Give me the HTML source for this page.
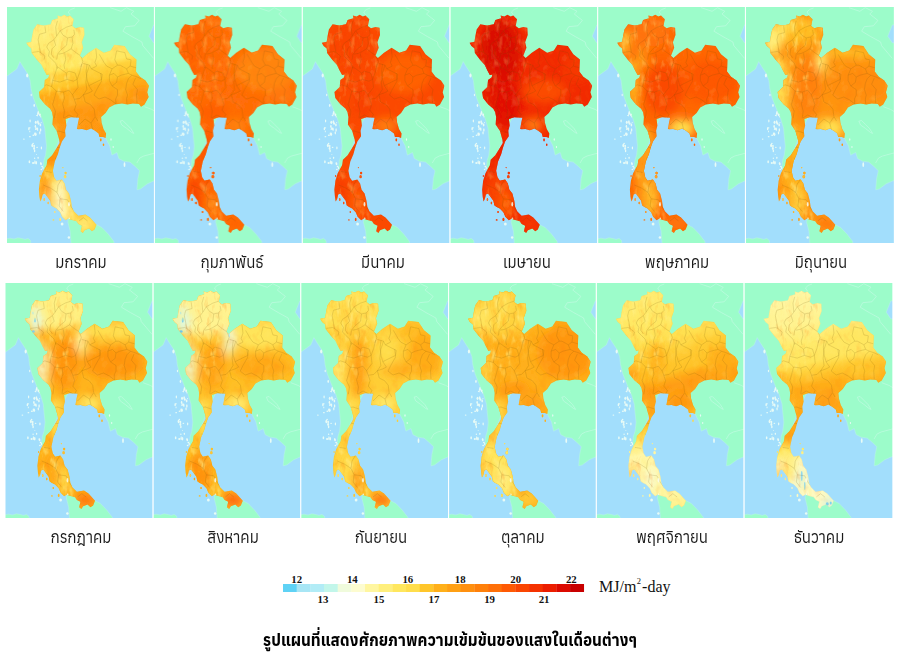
<!DOCTYPE html>
<html lang="th"><head><meta charset="utf-8"><title>แผนที่ศักยภาพความเข้มข้นของแสง</title>
<style>
html,body{margin:0;padding:0;background:#fff;}
body{width:900px;height:664px;position:relative;overflow:hidden;font-family:"Liberation Sans","Noto Sans Thai UI","Noto Sans Thai",sans-serif;}
svg{position:absolute;left:0;top:0;display:block}
.m{position:absolute;width:160px;text-align:center;font-family:"Liberation Sans","Anuphan","IBM Plex Sans Thai","Kanit","Prompt","Noto Sans Thai UI","Noto Sans Thai",sans-serif;font-size:16.5px;line-height:20px;color:#1a1a1a;transform:scaleX(0.915);transform-origin:50% 50%;white-space:nowrap}
.cap{position:absolute;left:0;width:900px;text-align:center;font-family:"Liberation Sans","Anuphan","IBM Plex Sans Thai","Kanit","Prompt","Noto Sans Thai UI","Noto Sans Thai",sans-serif;font-weight:700;font-size:17px;transform:scaleX(0.912);transform-origin:50% 50%;line-height:24px;color:#000;white-space:nowrap}
.n{position:absolute;width:30px;text-align:center;font-family:"Liberation Serif",serif;font-weight:700;font-size:10.8px;line-height:12px;color:#111}
.u{position:absolute;font-family:"Liberation Serif",serif;font-size:16px;line-height:18px;color:#111;white-space:nowrap}
.u sup{font-size:8.5px;line-height:0;vertical-align:8px;margin:0 1px 0 0.5px}
</style></head><body>

<svg width="900" height="664" viewBox="0 0 900 664">
<defs>
<filter id="bl" x="-20%" y="-20%" width="140%" height="140%"><feGaussianBlur stdDeviation="4.5"/></filter>
<filter id="sf" x="-5%" y="-5%" width="110%" height="110%"><feGaussianBlur stdDeviation="0.45"/></filter>
<clipPath id="tc"><path d="M19.2 35.7 L24.2 34.8 L25.1 28.9 L26.4 22.6 L30.1 17.2 L36.9 18.5 L43.6 17.2 L45.1 13.1 L50.9 11.3 L50.4 8.6 L54.1 9.5 L57.2 7.7 L60.4 9.5 L63 8.6 L66.8 12.2 L65.4 19 L68.5 21.2 L73 19.9 L77.1 20.8 L77.5 28 L74.9 35.3 L76.2 40.7 L73 48.8 L75.4 51.1 L81.5 45.8 L89.1 40.7 L96.9 45.8 L103.6 43.6 L107.2 37.7 L117.6 39 L123 47.2 L129.5 52.6 L129 64.4 L133 69.8 L138.5 73.4 L142 78.8 L140.2 85.2 L141.6 90 L137.5 97.5 L134 99.7 L132.1 97 L125.9 96.6 L120.4 97.5 L115 96.6 L107.8 97.5 L102.2 100.6 L98.6 106.1 L94.1 110.1 L94.6 115.5 L96.5 121.9 L99.1 126.4 L98.6 130.9 L96 130 L92.4 130 L91.5 126.4 L87.9 123.7 L84.2 121.4 L79.6 123.2 L75.1 121.9 L71.5 122.3 L69.9 122 L71.2 114.8 L72.1 110.7 L64 110.2 L58.6 112 L59.4 118.4 L58.1 123.8 L58.6 129.2 L54.9 134.6 L52.6 141 L50.9 147.3 L47.8 154.5 L46.9 159.1 L45.9 163.8 L47.2 170.2 L49.6 173.8 L54.9 172.4 L57.6 176.5 L59.1 182.8 L62.1 186.4 L64 193.7 L64.9 200 L66.9 204.3 L71.4 208.8 L78.5 207.4 L83 210.6 L89.5 217.8 L87.6 222.4 L85 224.2 L82.1 221.5 L77.6 223.3 L75.9 226 L73.6 224.2 L75 218.7 L71.4 216.9 L69.5 214.2 L63.2 212.4 L61.4 211.5 L58.6 213.3 L55.1 209.7 L53.2 205.2 L49.6 201.6 L46.1 199.8 L44.1 198.2 L43.2 193.7 L40.4 190.1 L37.8 186.5 L35.6 187.4 L34.6 191.9 L33.2 194.6 L32.4 189.2 L31.9 182.8 L32.9 173.8 L35.1 166.6 L36.9 163 L39.6 158.2 L40.4 152.7 L45.1 148.2 L49.6 141 L52.6 136 L52.2 132.8 L49.6 123.8 L45.4 117.5 L45.9 110 L44.9 105 L43.1 101.8 L37.8 97.3 L32.8 91 L31.9 85.1 L37.2 80.1 L37.8 72.9 L41.4 70.6 L42.2 67.5 L39.6 67.9 L36.9 62.9 L34.4 57.7 L29.8 52.7 L24.6 46.1 L24.2 41.6 L21.1 38.9Z"/><ellipse cx="58.6" cy="166.1" rx="1.2" ry="1.4"/><ellipse cx="58.1" cy="169.7" rx="1.3" ry="1.6"/><ellipse cx="93.8" cy="132.8" rx="0.9" ry="1.6"/><ellipse cx="96.5" cy="137.7" rx="0.8" ry="1.3"/><ellipse cx="53.2" cy="212.4" rx="0.9" ry="1.6"/><ellipse cx="46.4" cy="212.9" rx="0.9" ry="0.7"/><ellipse cx="37.2" cy="192.5" rx="0.7" ry="1.6"/><ellipse cx="41.2" cy="196.0" rx="0.7" ry="1.2"/><ellipse cx="47.8" cy="205.0" rx="0.7" ry="1.0"/><ellipse cx="33.1" cy="169.0" rx="0.6" ry="1.0"/><ellipse cx="55.9" cy="160.6" rx="0.6" ry="0.6"/></clipPath>
<g id="env"><rect x="-5" y="-5" width="160" height="250" fill="#a2defc"/><path d="M-4.2 -5 L-4.2 72 L0 69 L4.9 65.5 L9.8 61.9 L12.9 54.6 L15.9 59.4 L20.6 66.6 L23.2 73.8 L24.1 81.9 L26.4 91 L29.6 99.1 L31.9 105 L35.1 112 L37.8 121.1 L38.6 130.1 L39.6 139.2 L38.6 148.2 L36.9 153.6 L36.4 159.1 L36.9 163 L41.8 159 L47.8 145 L53.8 128 L64.8 105 L84.8 115 L94.8 125 L98.6 130.9 L100.5 134.5 L102.8 139 L104.9 148.1 L110 145.5 L111.9 151.6 L117 154.2 L123 155.1 L128.2 159.4 L132.6 163.7 L130.9 171.5 L130 182.8 L133.5 181.9 L140.5 176.7 L146.5 174.1 L152.8 172 L152.8 35.9 L146.5 35.9 L142 29.2 L146.5 17.9 L152.8 17.9 L152.8 -5Z" fill="#9cfcca" stroke="#b8f4e4" stroke-width="0.5"/><path d="M61.4 211.5 L60.9 215.1 L63.2 224.2 L64.1 236.5 L64.4 242 L109.8 242 L107.2 236.5 L106.6 234.1 L101.1 226.9 L94.9 220.5 L89.5 217.8 L79.8 213 L69.8 210Z" fill="#9cfcca" stroke="#b8f4e4" stroke-width="0.5"/><path d="M-4 231.5 L0 231.8 L3 231.2 L7 232 L11 230.8 L15 231.6 L18 232.4 L21 231.4 L23.5 233.5 L24 241 L-4 241Z" fill="#9cfcca" stroke="#b8f4e4" stroke-width="0.5"/><path d="M103.2 0.7 L114 4.3 L119.5 0.7 L126.8 4.3 L124 7 L132.1 13.4 L127.6 18.8 L118.5 19.7 L115.9 24.2 L125 29.6 L134.9 35 L135.8 38.6 L146.5 51.3" fill="none" stroke="#c4fae4" stroke-width="0.7" opacity="0.9"/><path d="M137.5 99.7 L144.8 102.4 L150.8 106" fill="none" stroke="#c4fae4" stroke-width="0.7" opacity="0.9"/><path d="M129.8 156 L132.8 151 L136.8 149 L151.8 145" fill="none" stroke="#c4fae4" stroke-width="0.7" opacity="0.9"/><path d="M113.1 114.2 L115.8 113.5 L119.8 117.5 L123.8 121.5 L126.8 126.4 L124.8 125.5 L119.8 121.5 L114.8 118 L113.1 114.2" fill="none" stroke="#c4fae4" stroke-width="0.7" opacity="0.9"/><path d="M63.2 8 L61.2 5 L63.8 2.5 L67.8 1" fill="none" stroke="#c4fae4" stroke-width="0.7" opacity="0.9"/><ellipse cx="33.4" cy="118.0" rx="0.82" ry="1.38" fill="#e8fbf6"/><ellipse cx="30.4" cy="107.9" rx="0.41" ry="1.67" fill="#e8fbf6"/><ellipse cx="28.4" cy="119.3" rx="0.73" ry="1.67" fill="#e8fbf6"/><ellipse cx="16.9" cy="132.1" rx="0.85" ry="0.71" fill="#e8fbf6"/><ellipse cx="27.1" cy="141.5" rx="0.92" ry="1.44" fill="#e8fbf6"/><ellipse cx="32.9" cy="107.8" rx="0.93" ry="1.33" fill="#e8fbf6"/><ellipse cx="21.9" cy="121.8" rx="0.73" ry="1.51" fill="#e8fbf6"/><ellipse cx="29.2" cy="155.8" rx="0.9" ry="1.79" fill="#e8fbf6"/><ellipse cx="28.6" cy="127.3" rx="1.05" ry="1.73" fill="#e8fbf6"/><ellipse cx="33.6" cy="109.7" rx="0.5" ry="0.8" fill="#e8fbf6"/><ellipse cx="35.9" cy="161.0" rx="0.61" ry="1.21" fill="#e8fbf6"/><ellipse cx="27.8" cy="126.8" rx="0.65" ry="1.32" fill="#e8fbf6"/><ellipse cx="25.4" cy="138.5" rx="1.05" ry="1.7" fill="#e8fbf6"/><ellipse cx="34.4" cy="162.5" rx="0.87" ry="0.73" fill="#e8fbf6"/><ellipse cx="22.4" cy="154.8" rx="0.8" ry="1.5" fill="#e8fbf6"/><ellipse cx="31.6" cy="116.5" rx="0.98" ry="1.3" fill="#e8fbf6"/><ellipse cx="22.6" cy="120.8" rx="1.09" ry="0.62" fill="#e8fbf6"/><ellipse cx="27.6" cy="151.2" rx="0.69" ry="0.71" fill="#e8fbf6"/><ellipse cx="28.9" cy="121.3" rx="0.43" ry="1.36" fill="#e8fbf6"/><ellipse cx="31.2" cy="106.7" rx="0.9" ry="0.96" fill="#e8fbf6"/><ellipse cx="26.1" cy="156.0" rx="1.1" ry="0.93" fill="#e8fbf6"/><ellipse cx="29.9" cy="108.5" rx="0.82" ry="0.54" fill="#e8fbf6"/><ellipse cx="34.2" cy="115.6" rx="0.51" ry="0.56" fill="#e8fbf6"/><ellipse cx="27.9" cy="155.2" rx="0.62" ry="1.84" fill="#e8fbf6"/><ellipse cx="34.1" cy="156.9" rx="0.76" ry="1.4" fill="#e8fbf6"/><ellipse cx="27.2" cy="139.1" rx="0.79" ry="1.37" fill="#e8fbf6"/><ellipse cx="35.1" cy="159.5" rx="0.9" ry="0.83" fill="#e8fbf6"/><ellipse cx="30.1" cy="121.8" rx="1.08" ry="1.23" fill="#e8fbf6"/><ellipse cx="26.1" cy="136.4" rx="0.81" ry="0.53" fill="#e8fbf6"/><ellipse cx="30.1" cy="140.3" rx="0.84" ry="0.58" fill="#e8fbf6"/><ellipse cx="34.4" cy="141.0" rx="0.65" ry="1.49" fill="#e8fbf6"/><ellipse cx="29.4" cy="147.5" rx="0.42" ry="0.58" fill="#e8fbf6"/><ellipse cx="27.6" cy="143.9" rx="0.72" ry="1.33" fill="#e8fbf6"/><ellipse cx="30.6" cy="122.9" rx="0.65" ry="0.94" fill="#e8fbf6"/><ellipse cx="32.8" cy="125.8" rx="0.66" ry="1.58" fill="#e8fbf6"/><ellipse cx="31.2" cy="105.6" rx="0.8" ry="1.53" fill="#e8fbf6"/><ellipse cx="28.6" cy="122.3" rx="0.57" ry="0.76" fill="#e8fbf6"/><ellipse cx="22.9" cy="129.7" rx="0.89" ry="0.64" fill="#e8fbf6"/><ellipse cx="33.6" cy="123.0" rx="0.71" ry="1.7" fill="#e8fbf6"/><ellipse cx="23.1" cy="114.0" rx="0.64" ry="1.41" fill="#e8fbf6"/><ellipse cx="33.6" cy="156.2" rx="0.48" ry="1.24" fill="#e8fbf6"/><ellipse cx="28.8" cy="115.3" rx="0.96" ry="1.67" fill="#e8fbf6"/><ellipse cx="30.9" cy="114.8" rx="0.85" ry="1.63" fill="#e8fbf6"/><ellipse cx="22.8" cy="124.4" rx="0.49" ry="0.91" fill="#e8fbf6"/><ellipse cx="31.1" cy="150.8" rx="0.69" ry="1.09" fill="#e8fbf6"/><ellipse cx="26.4" cy="128.2" rx="1.04" ry="0.72" fill="#e8fbf6"/><ellipse cx="27.2" cy="98.5" rx="0.8" ry="1.4" fill="#e8fbf6"/><ellipse cx="55.1" cy="216.9" rx="1.4" ry="1.5" fill="#e8fbf6"/><ellipse cx="61.9" cy="230.5" rx="1.2" ry="1.2" fill="#e8fbf6"/><ellipse cx="117.5" cy="157.7" rx="0.9" ry="2.4" fill="#e8fbf6"/><ellipse cx="104.0" cy="132.5" rx="0.6" ry="1.2" fill="#e8fbf6"/><ellipse cx="20.2" cy="68.5" rx="1.1" ry="2.0" fill="#e8fbf6"/><ellipse cx="106.2" cy="140.0" rx="0.6" ry="1.0" fill="#e8fbf6"/><ellipse cx="24.2" cy="88.0" rx="0.6" ry="1.2" fill="#e8fbf6"/></g>
<filter id="tx" x="0" y="0" width="100%" height="100%" color-interpolation-filters="sRGB"><feTurbulence type="fractalNoise" baseFrequency="0.10 0.08" numOctaves="3" seed="7"/><feColorMatrix type="matrix" values="0 0 0 0 1  0 0 0 0 0.93  0 0 0 0 0.55  0 0 0 2.6 -1.45"/></filter>
<filter id="ty" x="0" y="0" width="100%" height="100%" color-interpolation-filters="sRGB"><feTurbulence type="fractalNoise" baseFrequency="0.10 0.08" numOctaves="3" seed="7"/><feColorMatrix type="matrix" values="0 0 0 0 1  0 0 0 0 0.42  0 0 0 0 0.0  0 0 0 -2.6 1.15"/></filter>
<filter id="mx" x="0" y="0" width="100%" height="100%" color-interpolation-filters="sRGB"><feTurbulence type="fractalNoise" baseFrequency="0.17 0.075" numOctaves="3" seed="11"/><feColorMatrix type="matrix" values="0 0 0 0 1  0 0 0 0 0.95  0 0 0 0 0.55  0 0 0 3.2 -1.7"/></filter>
<filter id="my" x="0" y="0" width="100%" height="100%" color-interpolation-filters="sRGB"><feTurbulence type="fractalNoise" baseFrequency="0.17 0.075" numOctaves="3" seed="11"/><feColorMatrix type="matrix" values="0 0 0 0 1  0 0 0 0 0.45  0 0 0 0 0.0  0 0 0 -3.2 1.35"/></filter>
<mask id="mt" maskUnits="userSpaceOnUse" x="0" y="0" width="148" height="236"><path d="M12 -5 L82 -5 L82 56 L66 72 L50 100 L50 130 L60 160 L75 236 L25 236 L12 110Z" fill="#fff" filter="url(#bl)"/></mask>
<g id="mtx" mask="url(#mt)"><rect x="0" y="0" width="148" height="236" filter="url(#mx)" opacity="0.55"/><rect x="0" y="0" width="148" height="236" filter="url(#my)" opacity="0.3"/></g>
<g id="pv" fill="none" stroke="#6a4c00" stroke-width="0.32" stroke-linejoin="round" opacity="0.5"><path d="M37.9 19.2 L38.8 25.5 L32.5 27.3 L31.1 32.7 L32.5 40 L33.4 45.4 L37.9 49 L37 52.6"/><path d="M50.5 13.8 L48.7 20.1 L49.6 29.1 L46.9 32.7 L41.5 36.4 L39.7 40 L42.4 44.5 L41.5 49 L45.1 52.6 L48.7 56.2 L50.5 61.7"/><path d="M49.6 29.1 L53.2 23.7 L56 28.2 L60.5 30.9 L59.6 38.2 L54.1 42.7 L50.5 47.2 L49.6 52.6"/><path d="M53.2 23.7 L59.6 20.1 L65 18.3"/><path d="M60.5 30.9 L65 30 L67.7 27.3 L66.8 22.8"/><path d="M65 30 L65.9 36.4 L64.1 41.8 L68.6 45.4 L74 49 L75.8 54.4 L74 59.9"/><path d="M46.9 32.7 L48.7 38.2 L45.1 41.8 L44.2 47.2 L46.9 50.8"/><path d="M64.1 41.8 L59.6 44.5 L56 46.3 L51.4 47.2"/><path d="M57.8 46.3 L58.7 52.6 L56.9 58.1 L57.8 62"/><path d="M25.2 45.4 L31.5 44.5 L33.4 45.4"/><path d="M88.8 41.9 L89.7 50.1 L87.9 55.5 L89.7 59.1 L84.3 61.8 L82.5 58.2 L76.2 56.4"/><path d="M92.4 47.4 L97 55.5 L99.7 59.1 L105.1 61.8 L110.5 58.2 L107.8 52.8 L109.6 43.8"/><path d="M109.6 43.8 L117.8 45.6 L119.6 51.9 L124.1 52.8 L123.2 59.1 L119.6 61.8 L113.2 58.2 L110.5 58.2"/><path d="M84.3 61.8 L95.2 67.3 L94.3 74.5 L89.7 82.6 L87 88.1"/><path d="M105.1 61.8 L102.4 68.2 L102.4 73.6 L105.1 79 L110.5 82.6 L110.5 88.1 L108.7 92 L109 97"/><path d="M102.4 68.2 L106.9 66.4 L110.5 70 L109.6 75.4 L105.1 79"/><path d="M119.6 61.8 L121.4 66.4 L114.2 68.2 L110.5 70"/><path d="M121.4 66.4 L125 68.2 L121.4 71.8 L119.6 76.3 L118.7 82.6 L120.5 88.1 L119.6 92 L120 97"/><path d="M125 68.2 L130.4 70 L134 71.8"/><path d="M128.6 70.9 L125.9 77.2 L130.4 82.6 L129.5 88.1 L130 96"/><path d="M82.5 58.2 L79.8 66.4 L78.9 75.4 L79.8 82.6 L76.2 88.1"/><path d="M123.2 59.1 L129.5 60.9"/><path d="M50.2 59.7 L48.4 66 L45.6 73.3 L52.9 75.1 L60.1 72.4 L59.2 66 L52.9 61.5 L50.2 59.7"/><path d="M60.1 72.4 L66.4 74.2 L70.1 72.4 L68.2 66 L61.9 64.2 L59.2 66"/><path d="M70.1 72.4 L72.8 65.1 L74.6 57"/><path d="M80 57 L79.1 64.2 L80 72.4 L81.8 78.7 L85.4 84.1"/><path d="M70.1 72.4 L71 80.5 L68.2 84.1 L65.5 87.7 L67.3 92.3"/><path d="M45.6 73.3 L44.7 79.6 L49.3 84.1 L56.5 85 L61.9 83.2 L65.5 87.7"/><path d="M56.5 85 L57.4 91.4 L55.6 96.8 L57.4 104 L56.5 111.2"/><path d="M67.3 92.3 L72.8 91.4 L76.4 87.7 L81.8 85.9 L85.4 84.1"/><path d="M67.3 92.3 L69.1 97.7 L67.3 103.1 L70.9 107.6 L69.1 111.2"/><path d="M76.4 87.7 L78.2 95 L83.6 97.7 L87.2 102.2 L88.1 109.4 L90.8 114"/><path d="M93.6 66 L94.5 72.4 L89 75.1 L81.8 78.7"/><path d="M44.7 79.6 L39.3 77.8 L37.5 78.7"/><path d="M49.3 84.1 L47.4 91.4 L45.6 97.7 L48.4 104 L47.4 111.2"/><path d="M87 88.1 L92 92 L98 90 L104 93 L109 97"/><path d="M36.3 178 L43.7 181.2 L50 185.4 L53.1 191.8"/><path d="M50 185.4 L51 178 L54.2 172.8"/><path d="M53.1 191.8 L60.5 192.8 L63.7 199.1 L66.8 203.4"/><path d="M53.1 191.8 L52.1 199.1 L56.3 204.4"/><path d="M72.1 213.9 L76.3 210.7 L80.5 213.9"/><path d="M38.4 164.4 L44.7 165.4"/><path d="M46 125 L52 124 L58 126"/><path d="M49 140 L55 141"/><path d="M48 151 L52 152"/><path d="M72 118 L78 112 L84 116 L88 110"/><path d="M84 116 L86 124 L90 129"/><path d="M57 111 L62 108 L68 111"/><path d="M19.2 35.7 L24.2 34.8 L25.1 28.9 L26.4 22.6 L30.1 17.2 L36.9 18.5 L43.6 17.2 L45.1 13.1 L50.9 11.3 L50.4 8.6 L54.1 9.5 L57.2 7.7 L60.4 9.5 L63 8.6 L66.8 12.2 L65.4 19 L68.5 21.2 L73 19.9 L77.1 20.8 L77.5 28 L74.9 35.3 L76.2 40.7 L73 48.8 L75.4 51.1 L81.5 45.8 L89.1 40.7 L96.9 45.8 L103.6 43.6 L107.2 37.7 L117.6 39 L123 47.2 L129.5 52.6 L129 64.4 L133 69.8 L138.5 73.4 L142 78.8 L140.2 85.2 L141.6 90 L137.5 97.5 L134 99.7 L132.1 97 L125.9 96.6 L120.4 97.5 L115 96.6 L107.8 97.5 L102.2 100.6 L98.6 106.1 L94.1 110.1 L94.6 115.5 L96.5 121.9 L99.1 126.4 L98.6 130.9 L96 130 L92.4 130 L91.5 126.4 L87.9 123.7 L84.2 121.4 L79.6 123.2 L75.1 121.9 L71.5 122.3 L69.9 122 L71.2 114.8 L72.1 110.7 L64 110.2 L58.6 112 L59.4 118.4 L58.1 123.8 L58.6 129.2 L54.9 134.6 L52.6 141 L50.9 147.3 L47.8 154.5 L46.9 159.1 L45.9 163.8 L47.2 170.2 L49.6 173.8 L54.9 172.4 L57.6 176.5 L59.1 182.8 L62.1 186.4 L64 193.7 L64.9 200 L66.9 204.3 L71.4 208.8 L78.5 207.4 L83 210.6 L89.5 217.8 L87.6 222.4 L85 224.2 L82.1 221.5 L77.6 223.3 L75.9 226 L73.6 224.2 L75 218.7 L71.4 216.9 L69.5 214.2 L63.2 212.4 L61.4 211.5 L58.6 213.3 L55.1 209.7 L53.2 205.2 L49.6 201.6 L46.1 199.8 L44.1 198.2 L43.2 193.7 L40.4 190.1 L37.8 186.5 L35.6 187.4 L34.6 191.9 L33.2 194.6 L32.4 189.2 L31.9 182.8 L32.9 173.8 L35.1 166.6 L36.9 163 L39.6 158.2 L40.4 152.7 L45.1 148.2 L49.6 141 L52.6 136 L52.2 132.8 L49.6 123.8 L45.4 117.5 L45.9 110 L44.9 105 L43.1 101.8 L37.8 97.3 L32.8 91 L31.9 85.1 L37.2 80.1 L37.8 72.9 L41.4 70.6 L42.2 67.5 L39.6 67.9 L36.9 62.9 L34.4 57.7 L29.8 52.7 L24.6 46.1 L24.2 41.6 L21.1 38.9Z" stroke-width="0.4" opacity="0.3"/></g>
<g id="lk"><ellipse cx="62.0" cy="197.2" rx="0.9" ry="2.2" fill="#f8fcf0" opacity="0.85"/><ellipse cx="62.2" cy="211.6" rx="0.8" ry="1.0" fill="#f8fcf0" opacity="0.8"/></g>
<linearGradient id="g0" gradientUnits="userSpaceOnUse" x1="0" y1="0" x2="45" y2="236"><stop offset="0.0795" stop-color="#fff080"/><stop offset="0.2103" stop-color="#ffeb6d"/><stop offset="0.2962" stop-color="#ffe75e"/><stop offset="0.3207" stop-color="#ffd23b"/><stop offset="0.3698" stop-color="#ffc62a"/><stop offset="0.3902" stop-color="#ffb01a"/><stop offset="0.4516" stop-color="#ffa616"/><stop offset="0.4761" stop-color="#ff9a12"/><stop offset="0.6601" stop-color="#ff9711"/><stop offset="0.7010" stop-color="#ffc62a"/><stop offset="0.7500" stop-color="#ffd33d"/><stop offset="1.0117" stop-color="#ffd33d"/></linearGradient>
<linearGradient id="g10" gradientUnits="userSpaceOnUse" x1="0" y1="0" x2="60" y2="236"><stop offset="0.0926" stop-color="#ffec70"/><stop offset="0.2398" stop-color="#ffe75e"/><stop offset="0.2916" stop-color="#ffdf4f"/><stop offset="0.3393" stop-color="#ffce36"/><stop offset="0.4269" stop-color="#ffc227"/><stop offset="0.4587" stop-color="#ffa817"/><stop offset="0.4826" stop-color="#ff9e13"/><stop offset="0.5702" stop-color="#ffa817"/><stop offset="0.6179" stop-color="#ffc227"/><stop offset="0.6657" stop-color="#ffe75d"/><stop offset="0.7294" stop-color="#fff7a7"/><stop offset="0.9164" stop-color="#fff6a0"/><stop offset="1.0000" stop-color="#fff080"/></linearGradient>
<linearGradient id="g11" gradientUnits="userSpaceOnUse" x1="0" y1="0" x2="50" y2="236"><stop offset="0.0840" stop-color="#fff7a5"/><stop offset="0.2138" stop-color="#fff390"/><stop offset="0.2949" stop-color="#ffeb6c"/><stop offset="0.3760" stop-color="#ffe459"/><stop offset="0.4165" stop-color="#ffce36"/><stop offset="0.4733" stop-color="#ffaf1a"/><stop offset="0.6598" stop-color="#ffa817"/><stop offset="0.7166" stop-color="#ffe75d"/><stop offset="0.7734" stop-color="#fefabf"/><stop offset="1.0086" stop-color="#fefac4"/></linearGradient>
</defs>
<svg x="7" y="7" width="147.2" height="236" viewBox="0 0 147.2 236" overflow="hidden">
<g filter="url(#sf)"><use href="#env"/>
<g clip-path="url(#tc)">
<rect x="0" y="0" width="148" height="236" fill="url(#g0)"/>
<g filter="url(#bl)">
<ellipse cx="37" cy="186" rx="4" ry="24" fill="#ff8a0d" opacity="1"/>
<ellipse cx="53" cy="192" rx="6" ry="22" fill="#fdfcd0" opacity="1"/>
<ellipse cx="60" cy="206" rx="4" ry="8" fill="#fff7a7" opacity="1"/>
<ellipse cx="77" cy="217" rx="9" ry="6" fill="#fff080" opacity="1"/>
<ellipse cx="135" cy="88" rx="10" ry="8" fill="#ff900f" opacity="0.9"/>
</g><rect x="0" y="0" width="148" height="236" filter="url(#tx)" opacity="0.2"/><rect x="0" y="0" width="148" height="236" filter="url(#ty)" opacity="0.16"/><use href="#mtx" opacity="0.9"/><use href="#pv"/><use href="#lk"/></g></g></svg>
<svg x="154.75" y="7" width="147.2" height="236" viewBox="0 0 147.2 236" overflow="hidden">
<g filter="url(#sf)"><use href="#env"/>
<g clip-path="url(#tc)">
<rect x="0" y="0" width="148" height="236" fill="#ff6d07"/>
<g filter="url(#bl)">
<ellipse cx="112" cy="62" rx="32" ry="22" fill="#ff860c" opacity="0.95"/>
<ellipse cx="128" cy="88" rx="14" ry="8" fill="#ff7a09" opacity="0.8"/>
<ellipse cx="38" cy="45" rx="12" ry="28" fill="#ff6306" opacity="0.9"/>
<ellipse cx="50" cy="165" rx="12" ry="48" fill="#fe5804" opacity="1"/>
<ellipse cx="38" cy="190" rx="5" ry="20" fill="#f83c01" opacity="1"/>
<ellipse cx="56" cy="196" rx="5" ry="12" fill="#ff8c0e" opacity="0.9"/>
<ellipse cx="80" cy="216" rx="9" ry="6" fill="#ff6306" opacity="0.9"/>
<ellipse cx="82" cy="119" rx="10" ry="7" fill="#ff860c" opacity="0.9"/>
<ellipse cx="58" cy="105" rx="14" ry="10" fill="#ff5e05" opacity="0.9"/>
</g><rect x="0" y="0" width="148" height="236" filter="url(#tx)" opacity="0.2"/><rect x="0" y="0" width="148" height="236" filter="url(#ty)" opacity="0.16"/><use href="#mtx" opacity="0.5"/><use href="#pv"/><use href="#lk"/></g></g></svg>
<svg x="302.5" y="7" width="147.2" height="236" viewBox="0 0 147.2 236" overflow="hidden">
<g filter="url(#sf)"><use href="#env"/>
<g clip-path="url(#tc)">
<rect x="0" y="0" width="148" height="236" fill="#fb4902"/>
<g filter="url(#bl)">
<ellipse cx="102" cy="66" rx="28" ry="20" fill="#ff6205" opacity="0.95"/>
<ellipse cx="45" cy="40" rx="18" ry="28" fill="#f94202" opacity="0.9"/>
<ellipse cx="83" cy="119" rx="12" ry="8" fill="#ff7b09" opacity="1"/>
<ellipse cx="55" cy="196" rx="5" ry="12" fill="#ff6e08" opacity="0.9"/>
<ellipse cx="60" cy="95" rx="10" ry="18" fill="#f84001" opacity="0.8"/>
<ellipse cx="38" cy="188" rx="5" ry="18" fill="#f63600" opacity="0.9"/>
</g><rect x="0" y="0" width="148" height="236" filter="url(#tx)" opacity="0.2"/><rect x="0" y="0" width="148" height="236" filter="url(#ty)" opacity="0.16"/><use href="#mtx" opacity="0.45"/><use href="#pv"/><use href="#lk"/></g></g></svg>
<svg x="450.25" y="7" width="147.2" height="236" viewBox="0 0 147.2 236" overflow="hidden">
<g filter="url(#sf)"><use href="#env"/>
<g clip-path="url(#tc)">
<rect x="0" y="0" width="148" height="236" fill="#f22b00"/>
<g filter="url(#bl)">
<ellipse cx="50" cy="46" rx="21" ry="34" fill="#d90800" opacity="0.95"/>
<ellipse cx="56" cy="96" rx="15" ry="26" fill="#e11000" opacity="0.95"/>
<ellipse cx="40" cy="80" rx="8" ry="24" fill="#e41400" opacity="0.9"/>
<ellipse cx="94" cy="84" rx="22" ry="12" fill="#fc4e03" opacity="0.95"/>
<ellipse cx="127" cy="60" rx="14" ry="14" fill="#f73b01" opacity="0.85"/>
<ellipse cx="83" cy="118" rx="10" ry="7" fill="#ff7b09" opacity="1"/>
<ellipse cx="50" cy="192" rx="16" ry="28" fill="#fa4402" opacity="0.95"/>
<ellipse cx="55" cy="196" rx="5" ry="12" fill="#ff6606" opacity="0.9"/>
<ellipse cx="50" cy="145" rx="6" ry="18" fill="#ee2200" opacity="0.8"/>
<ellipse cx="80" cy="217" rx="10" ry="6" fill="#f73a01" opacity="0.9"/>
</g><rect x="0" y="0" width="148" height="236" filter="url(#tx)" opacity="0.2"/><rect x="0" y="0" width="148" height="236" filter="url(#ty)" opacity="0.16"/><use href="#mtx" opacity="0.4"/><use href="#pv"/><use href="#lk"/></g></g></svg>
<svg x="598" y="7" width="147.2" height="236" viewBox="0 0 147.2 236" overflow="hidden">
<g filter="url(#sf)"><use href="#env"/>
<g clip-path="url(#tc)">
<rect x="0" y="0" width="148" height="236" fill="#ff6706"/>
<g filter="url(#bl)">
<ellipse cx="50" cy="26" rx="22" ry="14" fill="#ff7509" opacity="0.9"/>
<ellipse cx="27" cy="36" rx="5" ry="14" fill="#ffb920" opacity="1"/>
<ellipse cx="35" cy="78" rx="6" ry="28" fill="#ffb41d" opacity="1"/>
<ellipse cx="44" cy="50" rx="6" ry="12" fill="#ff9c13" opacity="0.8"/>
<ellipse cx="66" cy="82" rx="20" ry="26" fill="#fb4a02" opacity="0.95"/>
<ellipse cx="112" cy="74" rx="30" ry="22" fill="#fe5704" opacity="0.95"/>
<ellipse cx="84" cy="121" rx="13" ry="9" fill="#ffde4c" opacity="1"/>
<ellipse cx="50" cy="165" rx="13" ry="45" fill="#ffa014" opacity="1"/>
<ellipse cx="54" cy="196" rx="4" ry="14" fill="#ffca2f" opacity="1"/>
<ellipse cx="79" cy="216" rx="10" ry="6" fill="#ff7809" opacity="1"/>
</g><rect x="0" y="0" width="148" height="236" filter="url(#tx)" opacity="0.2"/><rect x="0" y="0" width="148" height="236" filter="url(#ty)" opacity="0.16"/><use href="#mtx" opacity="0.6"/><use href="#pv"/><use href="#lk"/></g></g></svg>
<svg x="745.75" y="7" width="148.1" height="236" viewBox="0 0 148.1 236" overflow="hidden">
<g filter="url(#sf)"><use href="#env"/>
<g clip-path="url(#tc)">
<rect x="0" y="0" width="148" height="236" fill="#ff9510"/>
<g filter="url(#bl)">
<ellipse cx="50" cy="24" rx="26" ry="14" fill="#ffbf25" opacity="0.95"/>
<ellipse cx="27" cy="32" rx="9" ry="16" fill="#ffec70" opacity="1"/>
<ellipse cx="40" cy="18" rx="10" ry="8" fill="#ffdf4f" opacity="0.9"/>
<ellipse cx="34" cy="82" rx="8" ry="34" fill="#ffdf4f" opacity="1"/>
<ellipse cx="76" cy="54" rx="5" ry="12" fill="#ffec70" opacity="1"/>
<ellipse cx="62" cy="80" rx="14" ry="30" fill="#ff820b" opacity="1"/>
<ellipse cx="112" cy="78" rx="30" ry="18" fill="#ff8c0e" opacity="0.95"/>
<ellipse cx="105" cy="45" rx="28" ry="5" fill="#ffc529" opacity="0.9"/>
<ellipse cx="84" cy="121" rx="14" ry="10" fill="#ffdf4f" opacity="1"/>
<ellipse cx="50" cy="165" rx="13" ry="45" fill="#ffb41d" opacity="1"/>
<ellipse cx="53" cy="196" rx="5" ry="14" fill="#ffda47" opacity="0.95"/>
<ellipse cx="81" cy="217" rx="10" ry="6" fill="#ff7a09" opacity="1"/>
</g><rect x="0" y="0" width="148" height="236" filter="url(#tx)" opacity="0.2"/><rect x="0" y="0" width="148" height="236" filter="url(#ty)" opacity="0.16"/><use href="#mtx" opacity="0.9"/><use href="#pv"/><use href="#lk"/></g></g></svg>
<svg x="5.5" y="283" width="147.2" height="235" viewBox="0 0 147.2 235" overflow="hidden">
<g filter="url(#sf)"><use href="#env"/>
<g clip-path="url(#tc)">
<rect x="0" y="0" width="148" height="236" fill="#ffb41d"/>
<g filter="url(#bl)">
<ellipse cx="48" cy="20" rx="42" ry="27" fill="#fff080" opacity="1"/>
<ellipse cx="30" cy="38" rx="6" ry="14" fill="#e4fae0" opacity="1"/>
<ellipse cx="36" cy="84" rx="5" ry="26" fill="#f8fcd5" opacity="1"/>
<ellipse cx="60" cy="80" rx="14" ry="26" fill="#ff9611" opacity="1"/>
<ellipse cx="108" cy="80" rx="30" ry="16" fill="#ff9711" opacity="1"/>
<ellipse cx="108" cy="47" rx="34" ry="10" fill="#ffdf4f" opacity="1"/>
<ellipse cx="76" cy="58" rx="5" ry="12" fill="#fff7a7" opacity="1"/>
<ellipse cx="84" cy="121" rx="12" ry="8" fill="#ffe760" opacity="1"/>
<ellipse cx="52" cy="138" rx="7" ry="24" fill="#ffdf4f" opacity="1"/>
<ellipse cx="46" cy="188" rx="9" ry="22" fill="#ffaa18" opacity="1"/>
<ellipse cx="58" cy="196" rx="5" ry="14" fill="#ffd945" opacity="1"/>
<ellipse cx="80" cy="217" rx="11" ry="7" fill="#ff7a09" opacity="1"/>
</g><ellipse cx="29.5" cy="37" rx="0.9" ry="2.6" fill="#86d6f2"/><ellipse cx="27.8" cy="48.5" rx="1.4" ry="1.2" fill="#7fd0f0"/><ellipse cx="27.5" cy="30" rx="0.6" ry="1.5" fill="#a8e6f5"/><rect x="0" y="0" width="148" height="236" filter="url(#tx)" opacity="0.2"/><rect x="0" y="0" width="148" height="236" filter="url(#ty)" opacity="0.16"/><use href="#mtx" opacity="1"/><use href="#pv"/><use href="#lk"/></g></g></svg>
<svg x="153.25" y="283" width="147.2" height="235" viewBox="0 0 147.2 235" overflow="hidden">
<g filter="url(#sf)"><use href="#env"/>
<g clip-path="url(#tc)">
<rect x="0" y="0" width="148" height="236" fill="#ffbf25"/>
<g filter="url(#bl)">
<ellipse cx="48" cy="22" rx="42" ry="32" fill="#fff390" opacity="1"/>
<ellipse cx="30" cy="38" rx="6" ry="14" fill="#dbf9e2" opacity="1"/>
<ellipse cx="36" cy="84" rx="5" ry="26" fill="#f0fbdc" opacity="1"/>
<ellipse cx="60" cy="84" rx="13" ry="22" fill="#ffa516" opacity="1"/>
<ellipse cx="108" cy="84" rx="28" ry="12" fill="#ffa817" opacity="1"/>
<ellipse cx="106" cy="50" rx="34" ry="16" fill="#ffe55a" opacity="1"/>
<ellipse cx="76" cy="58" rx="5" ry="14" fill="#eefbdd" opacity="1"/>
<ellipse cx="84" cy="121" rx="12" ry="8" fill="#ffeb6e" opacity="1"/>
<ellipse cx="52" cy="138" rx="7" ry="24" fill="#ffdf4f" opacity="1"/>
<ellipse cx="47" cy="190" rx="12" ry="22" fill="#ff9611" opacity="1"/>
<ellipse cx="80" cy="217" rx="11" ry="7" fill="#ff6a07" opacity="1"/>
</g><ellipse cx="29.5" cy="37" rx="1.0" ry="2.8" fill="#7ed2f0"/><ellipse cx="27.8" cy="48.5" rx="1.6" ry="1.3" fill="#6fcbf0"/><ellipse cx="27.5" cy="30" rx="0.6" ry="1.5" fill="#a8e6f5"/><ellipse cx="76" cy="52" rx="0.6" ry="2.5" fill="#b2ecf6"/><rect x="0" y="0" width="148" height="236" filter="url(#tx)" opacity="0.2"/><rect x="0" y="0" width="148" height="236" filter="url(#ty)" opacity="0.16"/><use href="#mtx" opacity="1"/><use href="#pv"/><use href="#lk"/></g></g></svg>
<svg x="301" y="283" width="147.2" height="235" viewBox="0 0 147.2 235" overflow="hidden">
<g filter="url(#sf)"><use href="#env"/>
<g clip-path="url(#tc)">
<rect x="0" y="0" width="148" height="236" fill="#ffce36"/>
<g filter="url(#bl)">
<ellipse cx="48" cy="22" rx="42" ry="28" fill="#ffe152" opacity="1"/>
<ellipse cx="52" cy="42" rx="4" ry="12" fill="#ffb920" opacity="0.8"/>
<ellipse cx="40" cy="30" rx="4" ry="9" fill="#ffc62a" opacity="0.7"/>
<ellipse cx="58" cy="84" rx="8" ry="30" fill="#ffa114" opacity="1"/>
<ellipse cx="124" cy="72" rx="17" ry="24" fill="#ffac18" opacity="1"/>
<ellipse cx="102" cy="86" rx="22" ry="8" fill="#ffb01a" opacity="0.95"/>
<ellipse cx="112" cy="48" rx="16" ry="6" fill="#ffb41d" opacity="0.8"/>
<ellipse cx="86" cy="66" rx="9" ry="18" fill="#ffde4c" opacity="0.95"/>
<ellipse cx="36" cy="86" rx="5" ry="24" fill="#ffee77" opacity="1"/>
<ellipse cx="84" cy="121" rx="12" ry="8" fill="#ffe967" opacity="1"/>
<ellipse cx="52" cy="138" rx="7" ry="24" fill="#ffdf4f" opacity="1"/>
<ellipse cx="44" cy="188" rx="8" ry="20" fill="#ffdc49" opacity="1"/>
<ellipse cx="58" cy="198" rx="5" ry="15" fill="#ff9611" opacity="1"/>
<ellipse cx="80" cy="217" rx="11" ry="7" fill="#ff7a09" opacity="1"/>
</g><rect x="0" y="0" width="148" height="236" filter="url(#tx)" opacity="0.2"/><rect x="0" y="0" width="148" height="236" filter="url(#ty)" opacity="0.16"/><use href="#mtx" opacity="1"/><use href="#pv"/><use href="#lk"/></g></g></svg>
<svg x="448.75" y="283" width="147.2" height="235" viewBox="0 0 147.2 235" overflow="hidden">
<g filter="url(#sf)"><use href="#env"/>
<g clip-path="url(#tc)">
<rect x="0" y="0" width="148" height="236" fill="#ffaf1a"/>
<g filter="url(#bl)">
<ellipse cx="48" cy="24" rx="42" ry="30" fill="#ffd33d" opacity="1"/>
<ellipse cx="34" cy="36" rx="8" ry="13" fill="#ffe760" opacity="0.9"/>
<ellipse cx="55" cy="22" rx="6" ry="10" fill="#ffe760" opacity="0.8"/>
<ellipse cx="38" cy="93" rx="4" ry="5" fill="#ff9a12" opacity="0.9"/>
<ellipse cx="116" cy="70" rx="28" ry="26" fill="#ff9611" opacity="1"/>
<ellipse cx="66" cy="106" rx="15" ry="8" fill="#ff9a12" opacity="0.9"/>
<ellipse cx="84" cy="120" rx="12" ry="8" fill="#ff9f14" opacity="1"/>
<ellipse cx="36" cy="86" rx="5" ry="20" fill="#ffd945" opacity="1"/>
<ellipse cx="52" cy="138" rx="7" ry="22" fill="#ffda47" opacity="1"/>
<ellipse cx="50" cy="188" rx="20" ry="36" fill="#ffe55a" opacity="1"/>
<ellipse cx="54" cy="196" rx="4" ry="12" fill="#fff493" opacity="0.9"/>
<ellipse cx="79" cy="216" rx="10" ry="6" fill="#ffd33d" opacity="1"/>
<ellipse cx="36" cy="190" rx="3" ry="8" fill="#ffa817" opacity="0.9"/>
</g><rect x="0" y="0" width="148" height="236" filter="url(#tx)" opacity="0.2"/><rect x="0" y="0" width="148" height="236" filter="url(#ty)" opacity="0.16"/><use href="#mtx" opacity="1"/><use href="#pv"/><use href="#lk"/></g></g></svg>
<svg x="596.5" y="283" width="147.2" height="235" viewBox="0 0 147.2 235" overflow="hidden">
<g filter="url(#sf)"><use href="#env"/>
<g clip-path="url(#tc)">
<rect x="0" y="0" width="148" height="236" fill="url(#g10)"/>
<g filter="url(#bl)">
<ellipse cx="60" cy="80" rx="7" ry="22" fill="#ffae19" opacity="0.85"/>
<ellipse cx="127" cy="78" rx="14" ry="16" fill="#ffac18" opacity="0.9"/>
<ellipse cx="86" cy="54" rx="8" ry="10" fill="#ffe050" opacity="0.9"/>
<ellipse cx="36" cy="92" rx="5" ry="8" fill="#ff9a12" opacity="1"/>
<ellipse cx="36" cy="192" rx="3" ry="8" fill="#ffa014" opacity="1"/>
<ellipse cx="55" cy="196" rx="5" ry="14" fill="#f9fcd4" opacity="1"/>
<ellipse cx="84" cy="120" rx="12" ry="9" fill="#ff9711" opacity="1"/>
</g><rect x="0" y="0" width="148" height="236" filter="url(#tx)" opacity="0.2"/><rect x="0" y="0" width="148" height="236" filter="url(#ty)" opacity="0.16"/><use href="#mtx" opacity="0.9"/><use href="#pv"/><use href="#lk"/></g></g></svg>
<svg x="744.25" y="283" width="148.1" height="235" viewBox="0 0 148.1 235" overflow="hidden">
<g filter="url(#sf)"><use href="#env"/>
<g clip-path="url(#tc)">
<rect x="0" y="0" width="148" height="236" fill="url(#g11)"/>
<g filter="url(#bl)">
<ellipse cx="110" cy="58" rx="30" ry="14" fill="#ffe760" opacity="0.9"/>
<ellipse cx="118" cy="87" rx="24" ry="7" fill="#ffc62a" opacity="0.95"/>
<ellipse cx="36" cy="98" rx="5" ry="8" fill="#ffa817" opacity="1"/>
<ellipse cx="57" cy="196" rx="2" ry="8" fill="#b2ecf6" opacity="1"/>
<ellipse cx="84" cy="220" rx="4" ry="3.5" fill="#a8e6f5" opacity="1"/>
<ellipse cx="36" cy="192" rx="3" ry="8" fill="#ffa014" opacity="1"/>
<ellipse cx="82" cy="118" rx="14" ry="10" fill="#ffa014" opacity="1"/>
<ellipse cx="45" cy="185" rx="5" ry="14" fill="#ffe964" opacity="0.9"/>
</g><ellipse cx="57.5" cy="193" rx="0.9" ry="5" fill="#8ed8f2"/><ellipse cx="60.5" cy="203" rx="0.8" ry="4" fill="#8ed8f2"/><ellipse cx="83" cy="221" rx="1.5" ry="1.8" fill="#7ed2f0"/><ellipse cx="86.5" cy="220" rx="1" ry="1.6" fill="#7ed2f0"/><rect x="0" y="0" width="148" height="236" filter="url(#tx)" opacity="0.2"/><rect x="0" y="0" width="148" height="236" filter="url(#ty)" opacity="0.16"/><use href="#mtx" opacity="0.8"/><use href="#pv"/><use href="#lk"/></g></g></svg>
<rect x="153.90" y="6.5" width="1.1" height="237" fill="#fff" opacity="0.9"/>
<rect x="152.50" y="282.5" width="1.1" height="236" fill="#fff" opacity="0.9"/>
<rect x="301.65" y="6.5" width="1.1" height="237" fill="#fff" opacity="0.9"/>
<rect x="300.25" y="282.5" width="1.1" height="236" fill="#fff" opacity="0.9"/>
<rect x="449.40" y="6.5" width="1.1" height="237" fill="#fff" opacity="0.9"/>
<rect x="448.00" y="282.5" width="1.1" height="236" fill="#fff" opacity="0.9"/>
<rect x="597.15" y="6.5" width="1.1" height="237" fill="#fff" opacity="0.9"/>
<rect x="595.75" y="282.5" width="1.1" height="236" fill="#fff" opacity="0.9"/>
<rect x="744.90" y="6.5" width="1.1" height="237" fill="#fff" opacity="0.9"/>
<rect x="743.50" y="282.5" width="1.1" height="236" fill="#fff" opacity="0.9"/>
<rect x="283.00" y="584" width="13.97" height="8" fill="#5fd2f5"/>
<rect x="296.67" y="584" width="13.97" height="8" fill="#a8e6f5"/>
<rect x="310.34" y="584" width="13.97" height="8" fill="#b2ecf6"/>
<rect x="324.01" y="584" width="13.97" height="8" fill="#c2f6ea"/>
<rect x="337.68" y="584" width="13.97" height="8" fill="#f0fbdc"/>
<rect x="351.35" y="584" width="13.97" height="8" fill="#fdfcd0"/>
<rect x="365.02" y="584" width="13.97" height="8" fill="#fff6a0"/>
<rect x="378.69" y="584" width="13.97" height="8" fill="#ffef7c"/>
<rect x="392.36" y="584" width="13.97" height="8" fill="#ffe75e"/>
<rect x="406.03" y="584" width="13.97" height="8" fill="#ffde4c"/>
<rect x="419.70" y="584" width="13.97" height="8" fill="#ffc62a"/>
<rect x="433.37" y="584" width="13.97" height="8" fill="#ffb01a"/>
<rect x="447.04" y="584" width="13.97" height="8" fill="#ffa014"/>
<rect x="460.71" y="584" width="13.97" height="8" fill="#ff900f"/>
<rect x="474.38" y="584" width="13.97" height="8" fill="#ff800a"/>
<rect x="488.05" y="584" width="13.97" height="8" fill="#ff7008"/>
<rect x="501.72" y="584" width="13.97" height="8" fill="#ff5a04"/>
<rect x="515.39" y="584" width="13.97" height="8" fill="#fa4602"/>
<rect x="529.06" y="584" width="13.97" height="8" fill="#f53200"/>
<rect x="542.73" y="584" width="13.97" height="8" fill="#ec1e00"/>
<rect x="556.40" y="584" width="13.97" height="8" fill="#dc0a00"/>
<rect x="570.07" y="584" width="13.97" height="8" fill="#c80000"/>
</svg>
<div class="m" style="left:0.8px;top:252px">มกราคม</div>
<div class="m" style="left:152.0px;top:252px">กุมภาพันธ์</div>
<div class="m" style="left:303.0px;top:252px">มีนาคม</div>
<div class="m" style="left:446.7px;top:252px">เมษายน</div>
<div class="m" style="left:597.2px;top:252px">พฤษภาคม</div>
<div class="m" style="left:740.5px;top:252px">มิถุนายน</div>
<div class="m" style="left:1.3px;top:526.7px">กรกฎาคม</div>
<div class="m" style="left:152.8px;top:526.7px">สิงหาคม</div>
<div class="m" style="left:300.5px;top:526.7px">กันยายน</div>
<div class="m" style="left:443.3px;top:526.7px">ตุลาคม</div>
<div class="m" style="left:592.2px;top:526.7px">พฤศจิกายน</div>
<div class="m" style="left:739.2px;top:526.7px">ธันวาคม</div>
<div class="n" style="left:281.7px;top:573px">12</div>
<div class="n" style="left:337.3px;top:573px">14</div>
<div class="n" style="left:392.8px;top:573px">16</div>
<div class="n" style="left:445.2px;top:573px">18</div>
<div class="n" style="left:500.7px;top:573px">20</div>
<div class="n" style="left:556.3px;top:573px">22</div>
<div class="n" style="left:308.0px;top:593px">13</div>
<div class="n" style="left:364.0px;top:593px">15</div>
<div class="n" style="left:418.9px;top:593px">17</div>
<div class="n" style="left:474.6px;top:593px">19</div>
<div class="n" style="left:529.1px;top:593px">21</div>
<div class="u" style="left:599px;top:578px">MJ/m<sup>2</sup>-day</div>
<div class="cap" style="top:628.5px">รูปแผนที่แสดงศักยภาพความเข้มข้นของแสงในเดือนต่างๆ</div>
</body></html>
